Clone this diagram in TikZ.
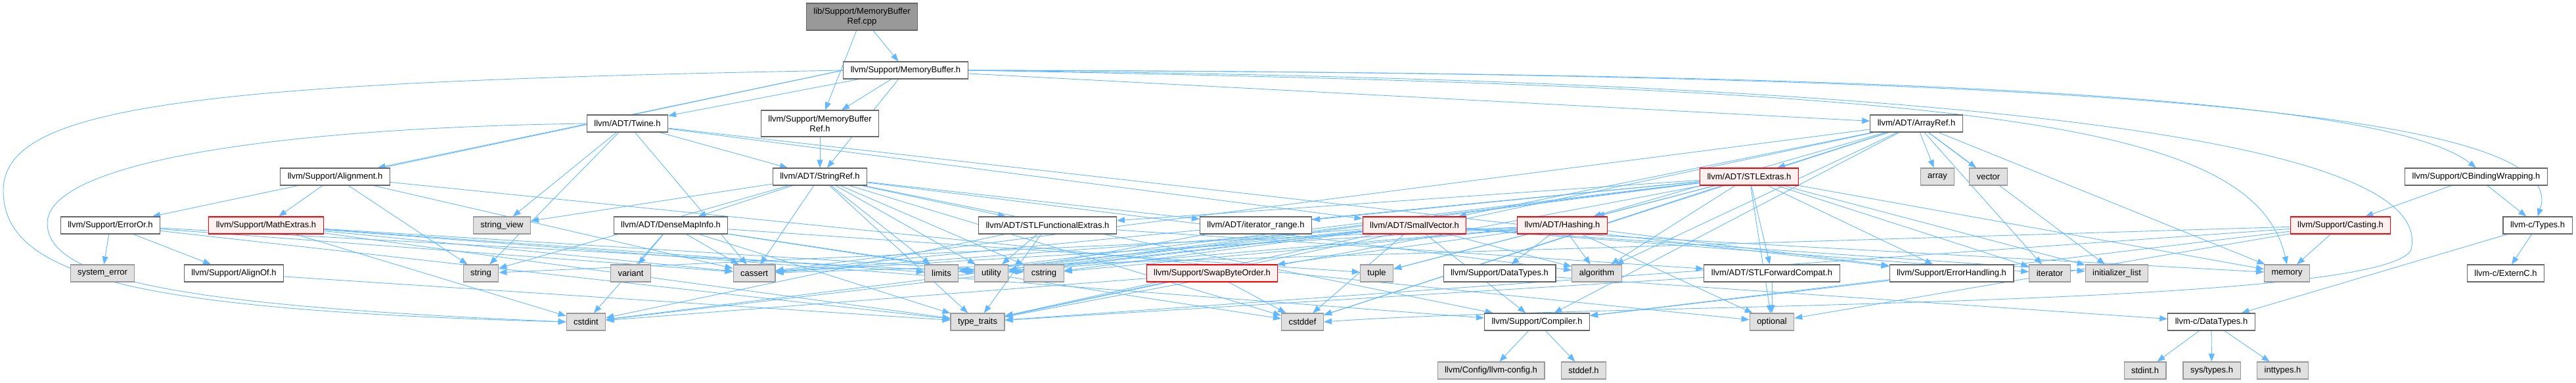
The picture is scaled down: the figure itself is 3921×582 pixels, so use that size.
\documentclass[tikz,border=0pt]{standalone}
\usepackage{fontspec}
\setmainfont{Liberation Sans}
\usetikzlibrary{arrows.meta, backgrounds}
\definecolor{edgeblue}{HTML}{63B8FF}
\definecolor{boxgray}{HTML}{666666}
\definecolor{rootfill}{HTML}{999999}
\definecolor{sysfill}{HTML}{E0E0E0}
\definecolor{sysline}{HTML}{999999}
\definecolor{truncfill}{HTML}{FFF0F0}
\definecolor{truncline}{HTML}{FF0000}

\begin{document}
\begin{tikzpicture}[x=1pt, y=-1pt,
    every node/.style={rectangle, draw, line width=1.1pt, minimum height=26pt, inner xsep=11pt, inner ysep=2pt, font=\fontsize{13}{15}\selectfont},
    hdr/.style={draw=boxgray, fill=white},
    sys/.style={draw=sysline, fill=sysfill},
    trunc/.style={draw=truncline, fill=truncfill},
    srcfile/.style={draw=boxgray, fill=rootfill, align=center, minimum height=41pt},
    dep/.style={edgeblue, line width=0.9pt, -{Triangle[length=12pt, width=9pt]}}]
    \useasboundingbox (0,0) rectangle (3921,582);

    % Source and first level
    \node[srcfile] (root) at (1312,25.5) {lib/Support/MemoryBuffer\\Ref.cpp};
    \node[hdr] (mbuf) at (1378.5,107) {llvm/Support/MemoryBuffer.h};
    \node[hdr, align=center, minimum height=40pt] (mbufref) at (1248,188) {llvm/Support/MemoryBuffer\\Ref.h};
    \node[hdr] (twine) at (955,188) {llvm/ADT/Twine.h};
    \node[hdr] (arrayref) at (2917,188) {llvm/ADT/ArrayRef.h};

    % Row 4
    \node[hdr] (align) at (510,269) {llvm/Support/Alignment.h};
    \node[hdr] (strref) at (1248,269) {llvm/ADT/StringRef.h};
    \node[trunc] (stlextras) at (2662.5,269) {llvm/ADT/STLExtras.h};
    \node[sys] (array) at (2949,269) {array};
    \node[sys] (vector) at (3026.5,269) {vector};
    \node[hdr] (cbind) at (3769,269) {llvm/Support/CBindingWrapping.h};

    % Row 5
    \node[hdr] (erroror) at (168,343) {llvm/Support/ErrorOr.h};
    \node[trunc] (mathext) at (405,343) {llvm/Support/MathExtras.h};
    \node[sys] (strview) at (764,343) {string\_view};
    \node[hdr] (densemap) at (1021,343) {llvm/ADT/DenseMapInfo.h};
    \node[hdr] (stlfunc) at (1594.5,343) {llvm/ADT/STLFunctionalExtras.h};
    \node[hdr] (iterrange) at (1911.5,343) {llvm/ADT/iterator\_range.h};
    \node[trunc] (smallvec) at (2153,343) {llvm/ADT/SmallVector.h};
    \node[trunc] (hashing) at (2378,343) {llvm/ADT/Hashing.h};
    \node[trunc] (casting) at (3562.5,343) {llvm/Support/Casting.h};
    \node[hdr] (ctypes) at (3862.5,343) {llvm-c/Types.h};

    % Row 6
    \node[sys] (syserr) at (156,416) {system\_error};
    \node[hdr] (alignof) at (356,416) {llvm/Support/AlignOf.h};
    \node[sys] (string) at (732,416) {string};
    \node[sys] (variant) at (960,416) {variant};
    \node[sys] (cassert) at (1148,416) {cassert};
    \node[sys] (limits) at (1433,416) {limits};
    \node[sys] (utility) at (1509,416) {utility};
    \node[sys] (cstring) at (1589,416) {cstring};
    \node[trunc] (swapbyte) at (1845,416) {llvm/Support/SwapByteOrder.h};
    \node[sys] (tuple) at (2095.5,416) {tuple};
    \node[hdr] (datatypes) at (2282.5,416) {llvm/Support/DataTypes.h};
    \node[sys] (algorithm) at (2430.5,416) {algorithm};
    \node[hdr] (stlfwd) at (2697,416) {llvm/ADT/STLForwardCompat.h};
    \node[hdr] (errhandling) at (2970.5,416) {llvm/Support/ErrorHandling.h};
    \node[sys] (iterator) at (3120,416) {iterator};
    \node[sys] (initlist) at (3222,416) {initializer\_list};
    \node[sys] (memory) at (3481,416) {memory};
    \node[hdr] (externc) at (3814,416) {llvm-c/ExternC.h};

    % Row 7
    \node[sys] (cstdint) at (892,490) {cstdint};
    \node[sys] (typetraits) at (1488,490) {type\_traits};
    \node[sys] (cstddef) at (1982.5,490) {cstddef};
    \node[hdr] (compiler) at (2339.5,490) {llvm/Support/Compiler.h};
    \node[sys] (optional) at (2697,490) {optional};
    \node[hdr] (cdatatypes) at (3366,490) {llvm-c/DataTypes.h};

    % Row 8
    \node[sys] (llvmconfig) at (2269.5,564) {llvm/Config/llvm-config.h};
    \node[sys] (stddefh) at (2410.5,564) {stddef.h};
    \node[sys] (stdinth) at (3265,564) {stdint.h};
    \node[sys] (systypes) at (3366.5,564) {sys/types.h};
    \node[sys] (inttypes) at (3474.5,564) {inttypes.h};

    % Includes
    \begin{pgfonlayer}{background}
    \path[dep] (root) edge (mbufref) edge (mbuf);
    \path[dep] (mbuf) edge (mbufref) edge (twine) edge (strref) edge (arrayref);
    \path[dep] (mbuf.west) edge (align) edge (erroror);
    \draw[dep] (mbuf.west) .. controls (300,125) and (5,160) .. (5,290)
        .. controls (5,420) and (200,472) .. (cstdint.west);
    \draw[dep] (mbuf.east) .. controls (2800,110) and (3620,140) .. (cbind.north);
    \draw[dep] (mbuf.east) .. controls (3400,110) and (3910,190) .. (ctypes.north);
    \draw[dep] (mbuf.east) .. controls (3000,135) and (3430,180) .. (memory.north);
    \draw[dep] (mbuf.east) .. controls (3300,125) and (3700,250) .. (3670,380)
        .. controls (3630,470) and (2400,462) .. (cstddef.east);
    \path[dep] (mbufref) edge (strref);
    \path[dep] (twine) edge (smallvec) edge (strref) edge (errhandling) edge (cassert)
        edge (string) edge (strview);
    \draw[dep] (twine.west) .. controls (400,195) and (72,250) .. (72,340)
        .. controls (72,430) and (300,466) .. (cstdint.west);
    \path[dep] (strref) edge (densemap) edge (stlfunc) edge (iterrange) edge (compiler)
        edge (algorithm) edge (cassert) edge (cstddef) edge (cstring) edge (limits)
        edge (string) edge (strview) edge (typetraits) edge (utility);
    \path[dep] (align) edge (mathext) edge (cassert) edge (optional) edge (string);
    \path[dep] (erroror) edge (alignof) edge (cassert) edge (syserr) edge (typetraits)
        edge (utility);
    \path[dep] (mathext) edge (compiler) edge (cassert) edge (cstdint) edge (cstring)
        edge (limits) edge (typetraits);
    \path[dep] (alignof) edge (typetraits);
    \path[dep] (densemap) edge (cassert) edge (cstddef) edge (cstdint) edge (tuple)
        edge (typetraits) edge (utility) edge (variant);
    \path[dep] (stlfunc) edge (stlfwd) edge (cstdint) edge (typetraits) edge (utility);
    \path[dep] (iterrange) edge (utility);
    \path[dep] (arrayref) edge (hashing) edge (stlextras) edge (smallvec) edge (compiler)
        edge (algorithm) edge (array) edge (cassert) edge (cstddef) edge (initlist)
        edge (iterator) edge (memory) edge (typetraits) edge (vector);
    \path[dep] (stlextras) edge (hashing) edge (stlfwd) edge (stlfunc) edge (iterrange)
        edge (errhandling) edge (algorithm) edge (cassert) edge (cstddef) edge (cstdint)
        edge (initlist) edge (iterator) edge (limits) edge (memory) edge (optional)
        edge (tuple) edge (typetraits) edge (utility);
    \path[dep] (smallvec) edge (compiler) edge (algorithm) edge (cassert) edge (cstddef)
        edge (cstdint) edge (cstring) edge (initlist) edge (iterator) edge (limits)
        edge (memory) edge (typetraits) edge (utility);
    \path[dep] (hashing) edge (datatypes) edge (errhandling) edge (swapbyte)
        edge (algorithm) edge (cassert) edge (cstring) edge (optional) edge (string)
        edge (tuple) edge (utility);
    \path[dep] (swapbyte) edge (cstddef) edge (cstdint) edge (typetraits);
    \path[dep] (datatypes) edge (cdatatypes);
    \path[dep] (stlfwd) edge (optional) edge (typetraits);
    \path[dep] (errhandling) edge (compiler);
    \path[dep] (compiler) edge (llvmconfig) edge (stddefh);
    \path[dep] (cbind) edge (casting) edge (ctypes);
    \path[dep] (casting) edge (compiler) edge (cassert) edge (memory) edge (optional)
        edge (typetraits);
    \path[dep] (ctypes) edge (cdatatypes) edge (externc);
    \path[dep] (cdatatypes) edge (stdinth) edge (systypes) edge (inttypes);
    \end{pgfonlayer}
\end{tikzpicture}
\end{document}
